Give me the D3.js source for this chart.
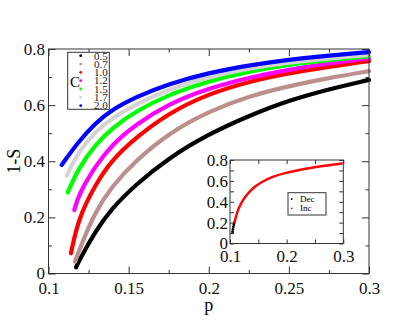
<!DOCTYPE html>
<html>
<head>
<meta charset="utf-8">
<script src="https://cdn.jsdelivr.net/npm/d3@7"></script>
<style>
  body { margin: 0; background: #fff; }
  svg text { font-family: "Liberation Serif", "DejaVu Serif", serif; }
</style>
</head>
<body>
<div class="chart"></div>
<script>
// legend labels and colours, one per C value
var cLabels = ["0.5", "0.7", "1.0", "1.2", "1.5", "1.7", "2.0"]
var colors = ["#000000", "#bc8f8f", "#ff0000", "#ff00ff", "#00ff00", "#d3d3d3", "#0000ff"]

// onset point of each curve (p, 1-S)
var startP = [0.1172, 0.1166, 0.114, 0.1161, 0.112, 0.1114, 0.1082]
var startS = [0.022, 0.042, 0.072, 0.226, 0.289, 0.349, 0.387]

// common p grid after the onset
var pGrid = [0.1187, 0.129, 0.1395, 0.154, 0.175, 0.2, 0.225, 0.25, 0.275, 0.3]
var sC05 = [0.042, 0.149, 0.232, 0.315, 0.412, 0.497, 0.562, 0.617, 0.657, 0.69]
var sC07 = [0.078, 0.22, 0.31, 0.40, 0.50, 0.578, 0.632, 0.668, 0.697, 0.721]
var sC10 = [0.197, 0.315, 0.404, 0.482, 0.572, 0.641, 0.684, 0.714, 0.737, 0.757]
var sC12 = [0.28, 0.381, 0.458, 0.529, 0.605, 0.66, 0.698, 0.727, 0.749, 0.767]
var sC15 = [0.375, 0.458, 0.517, 0.577, 0.638, 0.686, 0.72, 0.744, 0.761, 0.774]
var sC17 = [0.434, 0.505, 0.553, 0.602, 0.657, 0.701, 0.731, 0.752, 0.767, 0.779]
var sC20 = [0.47, 0.535, 0.583, 0.628, 0.676, 0.715, 0.742, 0.762, 0.777, 0.789]
var seriesS = [sC05, sC07, sC10, sC12, sC15, sC17, sC20]

// inset: increasing / decreasing runs
var incP = [0.1076, 0.111, 0.1147, 0.12, 0.1265, 0.135, 0.145, 0.156, 0.175, 0.197, 0.22, 0.244, 0.27, 0.299]
var incS = [0.194, 0.27, 0.33, 0.39, 0.445, 0.50, 0.55, 0.59, 0.64, 0.675, 0.703, 0.726, 0.748, 0.768]
var decP = [0.1045, 0.1052, 0.106, 0.1068, 0.1075]
var decS = [0.11, 0.135, 0.16, 0.18, 0.2]

var xTicks = [0.1, 0.15, 0.2, 0.25, 0.3]
var xMinor = [0.125, 0.175, 0.225, 0.275]
var yTicks = [0, 0.2, 0.4, 0.6, 0.8]
var yMinor = [0.1, 0.3, 0.5, 0.7]
var insetXTicks = [0.1, 0.2, 0.3]
var insetXMinor = [0.15, 0.25]

var width = 415, height = 322
var serif = "'Liberation Serif', 'DejaVu Serif', serif"
var svg = d3.select(".chart").append("svg")
            .attr("width", width)
            .attr("height", height)

var fmt = function(d){ return String(+d.toFixed(2)) }

function drawFrame(g, x, y, o) {
  var w = x.range()[1] - x.range()[0]
  var h = y.range()[0] - y.range()[1]
  g.append("g").attr("transform", "translate(0," + h + ")")
   .call(d3.axisBottom(x).tickValues(o.xt).tickSize(-o.major).tickPadding(o.xpad).tickFormat(fmt))
  g.append("g").attr("transform", "translate(0," + h + ")")
   .call(d3.axisBottom(x).tickValues(o.xm).tickSize(-o.minor).tickFormat(""))
  g.append("g")
   .call(d3.axisTop(x).tickValues(o.xt).tickSize(-o.major).tickFormat(""))
  g.append("g")
   .call(d3.axisTop(x).tickValues(o.xm).tickSize(-o.minor).tickFormat(""))
  g.append("g")
   .call(d3.axisLeft(y).tickValues(o.yt).tickSize(-o.major).tickPadding(o.ypad).tickFormat(fmt))
  g.append("g")
   .call(d3.axisLeft(y).tickValues(o.ym).tickSize(-o.minor).tickFormat(""))
  g.append("g").attr("transform", "translate(" + w + ",0)")
   .call(d3.axisRight(y).tickValues(o.yt).tickSize(-o.major).tickFormat(""))
  g.append("g").attr("transform", "translate(" + w + ",0)")
   .call(d3.axisRight(y).tickValues(o.ym).tickSize(-o.minor).tickFormat(""))
  g.selectAll(".domain").remove()
  g.selectAll(".tick line").attr("stroke", "#333")
  g.selectAll(".tick text")
   .attr("fill", "#111")
   .attr("font-family", serif)
   .style("font-family", serif)
   .style("font-size", o.fs + "px")
  g.append("rect").attr("width", w).attr("height", h)
   .attr("fill", "none").attr("stroke", "#333").attr("stroke-width", 1)
}

// ---- main plot
var main = svg.append("g").attr("transform", "translate(48.5,49)")
var x = d3.scaleLinear().domain([0.1, 0.3]).range([0, 320.5])
var y = d3.scaleLinear().domain([0, 0.8]).range([224.5, 0])

var line = d3.line().x(d => x(d[0])).y(d => y(d[1])).curve(d3.curveBasis)

seriesS.forEach(function(vals, i) {
  var pts = [[startP[i], startS[i]]].concat(pGrid.map((p, j) => [p, vals[j]]))
  main.append("path")
      .attr("d", line(pts))
      .attr("fill", "none")
      .attr("stroke", colors[i])
      .attr("stroke-width", 4.2)
      .attr("stroke-linecap", "round")
})

drawFrame(main, x, y, {xt: xTicks, xm: xMinor, yt: yTicks, ym: yMinor,
                       major: 7, minor: 3.5, xpad: 8, ypad: 3.5, fs: 17})

main.append("text").text("p")
    .attr("x", x(0.2)).attr("y", 262)
    .attr("text-anchor", "middle").style("font-size", "18px")
main.append("text").text("1-S")
    .attr("transform", "translate(-29," + y(0.4) + ") rotate(-90)")
    .attr("text-anchor", "middle").style("font-size", "18px")

// legend
var leg = svg.append("g")
leg.append("rect").attr("x", 67.7).attr("y", 52.3).attr("width", 41.6).attr("height", 57)
   .attr("fill", "#fff").attr("stroke", "#333")
leg.append("text").text("C").attr("x", 70).attr("y", 86.7).style("font-size", "15px")
cLabels.forEach(function(l, i) {
  var cy = 55.7 + i * 8.33
  leg.append("circle").attr("cx", 80.7).attr("cy", cy).attr("r", 1.4).attr("fill", colors[i])
  leg.append("text").text(l).attr("x", 94).attr("y", cy + 3.8)
     .style("font-size", "11px").attr("fill", "#222")
})

// ---- inset
var inset = svg.append("g").attr("transform", "translate(230,160)")
var xi = d3.scaleLinear().domain([0.1, 0.3]).range([0, 113.3])
var yi = d3.scaleLinear().domain([0, 0.8]).range([83.5, 0])
inset.append("rect").attr("width", 113.3).attr("height", 83.5).attr("fill", "#fff")
var lineI = d3.line().x(d => xi(d[0])).y(d => yi(d[1])).curve(d3.curveBasis)
inset.selectAll(".dec").data(decP.map((p, i) => [p, decS[i]])).enter()
     .append("circle").attr("cx", d => xi(d[0])).attr("cy", d => yi(d[1]))
     .attr("r", 1.4).attr("fill", "#000")
inset.append("path").attr("d", lineI(incP.map((p, i) => [p, incS[i]])))
     .attr("fill", "none").attr("stroke", "#ff0000").attr("stroke-width", 2.4)

drawFrame(inset, xi, yi, {xt: insetXTicks, xm: insetXMinor, yt: yTicks, ym: yMinor,
                          major: 4, minor: 4, xpad: 6, ypad: 2, fs: 17})

var li = svg.append("g")
li.append("rect").attr("x", 288).attr("y", 192.7).attr("width", 38).attr("height", 22.3)
  .attr("fill", "#fff").attr("stroke", "#333")
li.append("circle").attr("cx", 291.7).attr("cy", 199).attr("r", 0.9).attr("fill", "#000")
li.append("circle").attr("cx", 291.7).attr("cy", 208.3).attr("r", 0.9).attr("fill", "#ff0000")
li.append("text").text("Dec").attr("x", 300).attr("y", 202).style("font-size", "9px")
li.append("text").text("Inc").attr("x", 300).attr("y", 211.3).style("font-size", "9px")
</script>
</body>
</html>
